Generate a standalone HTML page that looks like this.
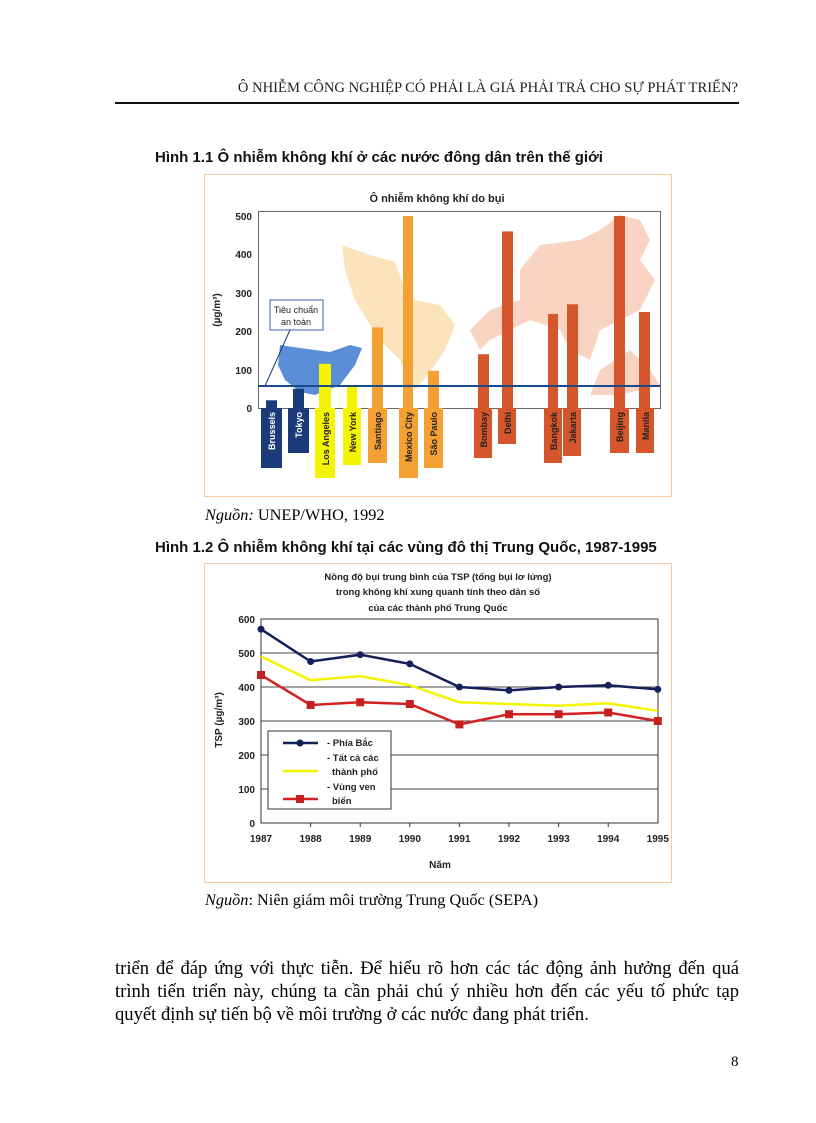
<!DOCTYPE html>
<html><head><meta charset="utf-8"><style>
body{margin:0;background:#fff;}
#p{position:relative;width:816px;height:1123px;overflow:hidden;font-family:"Liberation Serif","Noto Serif CJK SC",serif;}
.a{position:absolute;white-space:nowrap;}
</style></head><body><div id="p">
<div class="a" style="right:78px;top:80px;font-size:14.6px;color:#222;">Ô NHIỄM CÔNG NGHIỆP CÓ PHẢI LÀ GIÁ PHẢI TRẢ CHO SỰ PHÁT TRIỂN?</div>
<div class="a" style="left:115px;top:102px;width:624px;height:2px;background:#111;"></div>
<div class="a" style="left:155px;top:149px;font:bold 15px 'Liberation Sans',sans-serif;color:#111;">Hình 1.1 Ô nhiễm không khí ở các nước đông dân trên thế giới</div>
<div class="a" style="left:205px;top:505px;font-size:16.3px;"><i>Nguồn:</i> UNEP/WHO, 1992</div>
<div class="a" style="left:155px;top:539px;font:bold 15px 'Liberation Sans',sans-serif;color:#111;">Hình 1.2 Ô nhiễm không khí tại các vùng đô thị Trung Quốc, 1987-1995</div>
<div class="a" style="left:205px;top:890px;font-size:16.3px;"><i>Nguồn</i>: Niên giám môi trường Trung Quốc (SEPA)</div>
<div class="a" style="left:115px;top:957px;width:624px;font-size:18.6px;line-height:23px;white-space:normal;text-align:justify;">triển để đáp ứng với thực tiễn. Để hiểu rõ hơn các tác động ảnh hưởng đến quá trình tiến triển này, chúng ta cần phải chú ý nhiều hơn đến các yếu tố phức tạp quyết định sự tiến bộ về môi trường ở các nước đang phát triển.</div>
<div class="a" style="left:731px;top:1054px;font-size:15px;">8</div>

<svg class="a" style="left:0;top:0" width="816" height="1123" font-family="Liberation Sans, sans-serif">
<rect x="204.5" y="174.5" width="467" height="322" fill="#fff" stroke="#f6c9a0"/>
<text x="437" y="202" font-size="11" font-weight="bold" text-anchor="middle" fill="#222">Ô nhiễm không khí do bụi</text>
<path d="M342,245 L370,255 L395,262 L405,290 L415,300 L440,305 L455,325 L445,350 L430,372 L415,390 L400,360 L380,340 L370,325 L355,300 L345,270 Z" fill="#fbe3bc"/>
<path d="M470,330 L490,310 L520,300 L520,270 L540,245 L580,240 L600,230 L620,215 L640,220 L650,240 L640,260 L655,280 L640,310 L620,320 L600,330 L590,360 L570,350 L560,330 L530,320 L510,330 L490,340 L480,350 L475,340 Z" fill="#f9d4c2"/>
<path d="M600,370 L630,350 L650,370 L660,385 L620,395 L590,395 Z" fill="#f9d4c2"/>
<path d="M280,345 L300,348 L330,352 L350,345 L362,348 L355,365 L340,385 L315,395 L300,392 L285,380 L278,365 Z" fill="#5b8ed6"/>
<rect x="258.5" y="211.5" width="402" height="197" fill="none" stroke="#666"/>
<g font-size="10" font-weight="bold" fill="#222" text-anchor="end">
<text x="252" y="220">500</text><text x="252" y="258">400</text><text x="252" y="297">300</text><text x="252" y="335">200</text><text x="252" y="374">100</text><text x="252" y="412">0</text>
</g>
<text transform="translate(220,310) rotate(-90)" font-size="10" font-weight="bold" text-anchor="middle" fill="#222">(µg/m³)</text>
<rect x="270" y="300" width="53" height="30" fill="#fff" stroke="#3a6aa8"/>
<text x="296" y="313" font-size="9" text-anchor="middle" fill="#222">Tiêu chuẩn</text>
<text x="296" y="325" font-size="9" text-anchor="middle" fill="#222">an toàn</text>
<line x1="290" y1="330" x2="265" y2="386" stroke="#1a3a7a"/>
<g>
<rect x="266" y="400.3" width="11" height="7.7" fill="#1a3a7a"/><rect x="261" y="408" width="21" height="60" fill="#1a3a7a"/>
<rect x="293" y="388.8" width="11" height="19.2" fill="#1a3a7a"/><rect x="288" y="408" width="21" height="45" fill="#1a3a7a"/>
<rect x="319" y="363.8" width="12" height="44.2" fill="#f4f400"/><rect x="315" y="408" width="20" height="70" fill="#f4f400"/>
<rect x="347" y="385" width="10" height="23" fill="#f4f400"/><rect x="343" y="408" width="18" height="57" fill="#f4f400"/>
<rect x="372" y="327.4" width="11" height="80.6" fill="#f5a032"/><rect x="368" y="408" width="19" height="55" fill="#f5a032"/>
<rect x="403" y="216" width="10" height="192" fill="#f5a032"/><rect x="399" y="408" width="19" height="70" fill="#f5a032"/>
<rect x="428" y="370.8" width="11" height="37.2" fill="#f5a032"/><rect x="424" y="408" width="19" height="60" fill="#f5a032"/>
<rect x="478" y="354.2" width="11" height="53.8" fill="#d4562a"/><rect x="474" y="408" width="18" height="50" fill="#d4562a"/>
<rect x="502" y="231.4" width="11" height="176.6" fill="#d4562a"/><rect x="498" y="408" width="18" height="36" fill="#d4562a"/>
<rect x="548" y="313.9" width="10" height="94.1" fill="#d4562a"/><rect x="544" y="408" width="18" height="55" fill="#d4562a"/>
<rect x="567" y="304.3" width="11" height="103.7" fill="#d4562a"/><rect x="563" y="408" width="18" height="48" fill="#d4562a"/>
<rect x="614" y="216" width="11" height="192" fill="#d4562a"/><rect x="610" y="408" width="19" height="45" fill="#d4562a"/>
<rect x="639" y="312" width="11" height="96" fill="#d4562a"/><rect x="636" y="408" width="18" height="45" fill="#d4562a"/>
</g>
<g font-size="9" font-weight="bold" text-anchor="end">
<text transform="translate(275,412) rotate(-90)" fill="#fff">Brussels</text>
<text transform="translate(302,412) rotate(-90)" fill="#fff">Tokyo</text>
<text transform="translate(329,412) rotate(-90)" fill="#222">Los Angeles</text>
<text transform="translate(356,412) rotate(-90)" fill="#222">New York</text>
<text transform="translate(381,412) rotate(-90)" fill="#222">Santiago</text>
<text transform="translate(412,412) rotate(-90)" fill="#222">Mexico City</text>
<text transform="translate(437,412) rotate(-90)" fill="#222">São Paulo</text>
<text transform="translate(487,412) rotate(-90)" fill="#222">Bombay</text>
<text transform="translate(511,412) rotate(-90)" fill="#222">Delhi</text>
<text transform="translate(557,412) rotate(-90)" fill="#222">Bangkok</text>
<text transform="translate(576,412) rotate(-90)" fill="#222">Jakarta</text>
<text transform="translate(623,412) rotate(-90)" fill="#222">Beijing</text>
<text transform="translate(649,412) rotate(-90)" fill="#222">Manila</text>
</g>
<line x1="258" y1="386" x2="660" y2="386" stroke="#1a4a8a" stroke-width="2"/>

<rect x="204.5" y="563.5" width="467" height="319" fill="#fff" stroke="#f6c9a0"/>
<g font-size="9.5" font-weight="bold" text-anchor="middle" fill="#222">
<text x="438" y="580">Nồng độ bụi trung bình của TSP (tổng bụi lơ lửng)</text>
<text x="438" y="595">trong không khí xung quanh tính theo dân số</text>
<text x="438" y="611">của các thành phố Trung Quốc</text>
</g>
<g stroke="#444" stroke-width="1">
<line x1="261" y1="653" x2="658" y2="653"/><line x1="261" y1="687" x2="658" y2="687"/><line x1="261" y1="721" x2="658" y2="721"/><line x1="261" y1="755" x2="658" y2="755"/><line x1="261" y1="789" x2="658" y2="789"/>
</g>
<rect x="261" y="619" width="397" height="204" fill="none" stroke="#333"/>
<g stroke="#333"><line x1="310.6" y1="823" x2="310.6" y2="827"/><line x1="360.2" y1="823" x2="360.2" y2="827"/><line x1="409.8" y1="823" x2="409.8" y2="827"/><line x1="459.4" y1="823" x2="459.4" y2="827"/><line x1="509" y1="823" x2="509" y2="827"/><line x1="558.6" y1="823" x2="558.6" y2="827"/><line x1="608.2" y1="823" x2="608.2" y2="827"/></g>
<g font-size="10" font-weight="bold" fill="#222" text-anchor="end">
<text x="255" y="623">600</text><text x="255" y="657">500</text><text x="255" y="691">400</text><text x="255" y="725">300</text><text x="255" y="759">200</text><text x="255" y="793">100</text><text x="255" y="827">0</text>
</g>
<g font-size="10" font-weight="bold" fill="#222" text-anchor="middle">
<text x="261" y="842">1987</text><text x="310.6" y="842">1988</text><text x="360.2" y="842">1989</text><text x="409.8" y="842">1990</text><text x="459.4" y="842">1991</text><text x="509" y="842">1992</text><text x="558.6" y="842">1993</text><text x="608.2" y="842">1994</text><text x="657.8" y="842">1995</text>
<text x="440" y="868">Năm</text>
</g>
<text transform="translate(222,720) rotate(-90)" font-size="10" font-weight="bold" text-anchor="middle" fill="#222">TSP (µg/m³)</text>
<polyline fill="none" stroke="#f4f400" stroke-width="2.5" points="261,656.4 310.6,680.2 360.2,676.1 409.8,685.3 459.4,702.3 509,704 558.6,705.7 608.2,703.3 657.8,710.8"/>
<polyline fill="none" stroke="#d42020" stroke-width="2.5" points="261,675.1 310.6,705 360.2,702.3 409.8,704 459.4,724.4 509,714.2 558.6,714.2 608.2,712.5 657.8,721"/>
<g fill="#c42020"><rect x="257" y="671" width="8" height="8"/><rect x="306.6" y="701" width="8" height="8"/><rect x="356.2" y="698.3" width="8" height="8"/><rect x="405.8" y="700" width="8" height="8"/><rect x="455.4" y="720.4" width="8" height="8"/><rect x="505" y="710.2" width="8" height="8"/><rect x="554.6" y="710.2" width="8" height="8"/><rect x="604.2" y="708.5" width="8" height="8"/><rect x="653.8" y="717" width="8" height="8"/></g>
<polyline fill="none" stroke="#14205a" stroke-width="2.5" points="261,629.2 310.6,661.5 360.2,654.7 409.8,663.9 459.4,687 509,690.4 558.6,687 608.2,685.3 657.8,689.4"/>
<g fill="#14205a"><circle cx="261" cy="629.2" r="3.5"/><circle cx="310.6" cy="661.5" r="3.5"/><circle cx="360.2" cy="654.7" r="3.5"/><circle cx="409.8" cy="663.9" r="3.5"/><circle cx="459.4" cy="687" r="3.5"/><circle cx="509" cy="690.4" r="3.5"/><circle cx="558.6" cy="687" r="3.5"/><circle cx="608.2" cy="685.3" r="3.5"/><circle cx="657.8" cy="689.4" r="3.5"/></g>
<rect x="268" y="731" width="123" height="78" fill="#fff" stroke="#333"/>
<line x1="283" y1="743" x2="318" y2="743" stroke="#14205a" stroke-width="2.5"/><circle cx="300" cy="743" r="3.5" fill="#14205a"/>
<line x1="283" y1="771" x2="318" y2="771" stroke="#f4f400" stroke-width="2.5"/>
<line x1="283" y1="799" x2="318" y2="799" stroke="#d42020" stroke-width="2.5"/><rect x="296" y="795" width="8" height="8" fill="#c42020"/>
<g font-size="9.5" font-weight="bold" fill="#222">
<text x="327" y="746">- Phía Bắc</text><text x="327" y="761">- Tất cả các</text><text x="332" y="775">thành phố</text><text x="327" y="790">- Vùng ven</text><text x="332" y="804">biển</text>
</g>
</svg>
</div></body></html>
